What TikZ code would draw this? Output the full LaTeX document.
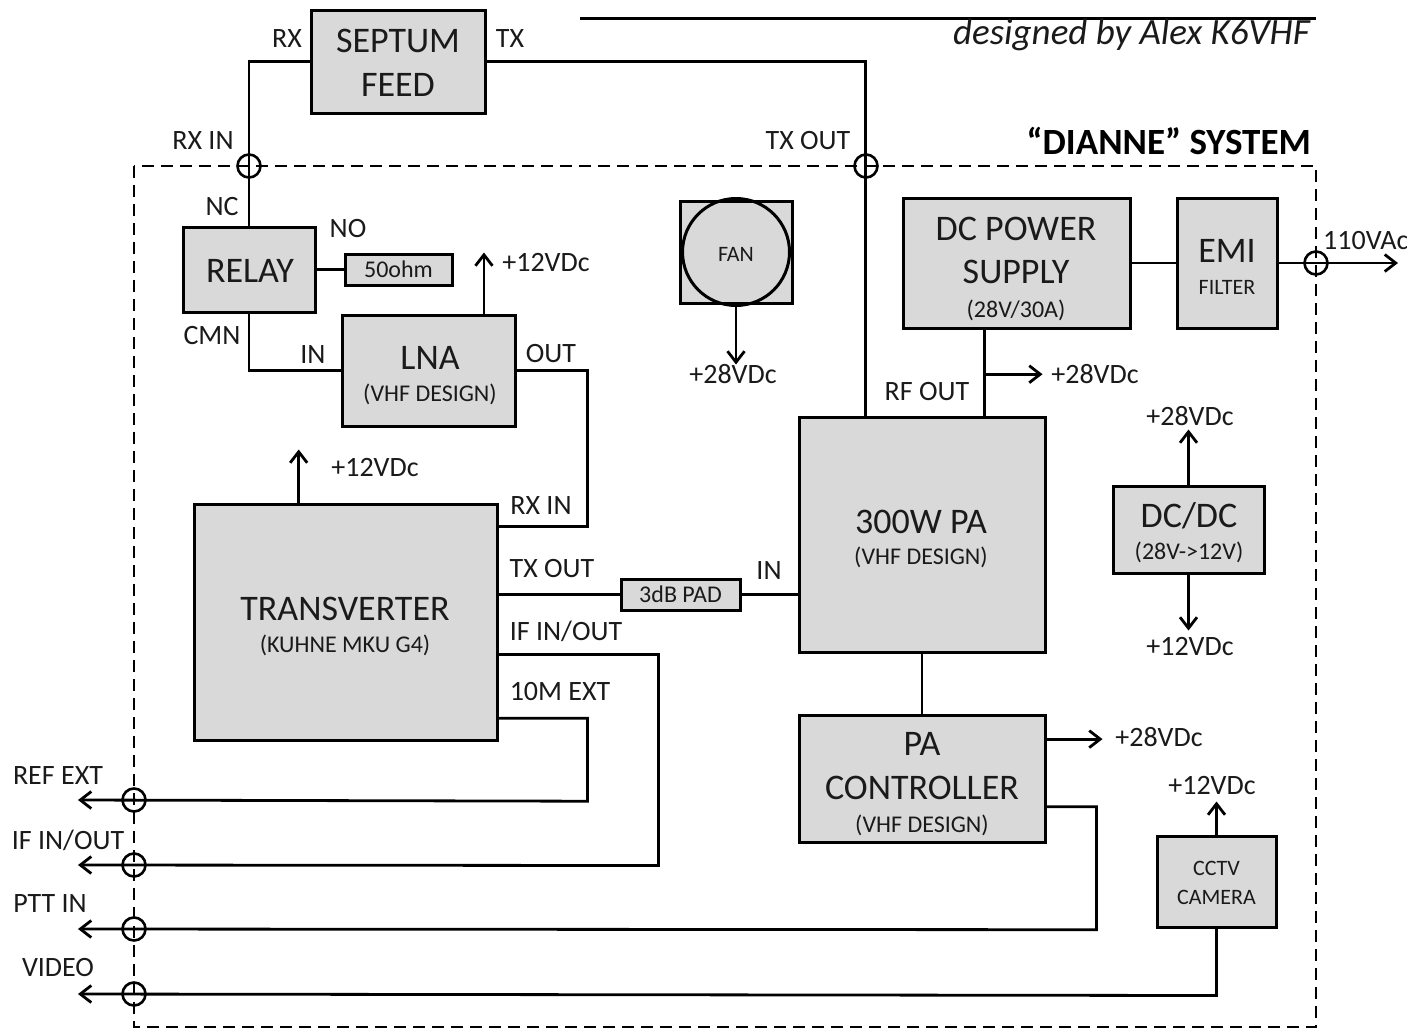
\documentclass[tikz,border=0pt]{standalone}
\usepackage{fontspec}
\setmainfont{Carlito}
\usetikzlibrary{arrows.meta,calc}
\definecolor{boxfill}{HTML}{D9D9D9}
\definecolor{ink}{HTML}{1A1A1A}
\begin{document}
\begin{tikzpicture}[x=1pt,y=-1pt,
  blk/.style={draw=black,fill=boxfill,line width=3pt,rectangle,inner sep=0pt},
  wire/.style={draw=black,line width=2.8pt},
  arr/.style={wire,-{Straight Barb[length=11pt,width=17pt,line width=2.8pt]}},
  port/.style={circle,draw=black,line width=2.6pt,minimum size=23pt,inner sep=0pt},
  lab/.style={text=ink,inner sep=0pt,anchor=base,yshift=-9pt,font=\fontsize{28}{32}\selectfont},
  bigt/.style={text=ink,inner sep=0pt,anchor=base,yshift=-11.6pt,font=\fontsize{36}{40}\selectfont},
  smt/.style={text=ink,inner sep=0pt,anchor=base,yshift=-7.7pt,font=\fontsize{24}{28}\selectfont},
  tnt/.style={text=ink,inner sep=0pt,anchor=base,yshift=-7.1pt,font=\fontsize{22}{26}\selectfont}]
\useasboundingbox (0,0) rectangle (1407,1031);
\fill[white] (0,0) rectangle (1407,1031);

% title rule and author
\draw[line width=3pt] (580,18) coordinate (tl) -- (1316,18) coordinate (tr);
\node[text=ink,inner sep=0pt,anchor=base east,yshift=-12pt,font=\fontsize{37}{40}\selectfont\itshape] (author) at (1310,32) {designed by Alex K6VHF};

% system boundary
\draw[line width=2.6pt,dash pattern=on 12pt off 7pt] (134,166) rectangle (1316,1027);
\node[text=black,inner sep=0pt,anchor=base east,yshift=-12pt,font=\fontsize{37}{40}\selectfont\bfseries] (systitle) at (1311,142) {“DIANNE” SYSTEM};

% blocks
\node[blk,minimum width=174pt,minimum height=103pt] (septum) at (398,61.5) {};
\node[blk,minimum width=132pt,minimum height=85pt] (relay) at (249,269.5) {};
\node[blk,minimum width=107pt,minimum height=31pt] (ohm) at (398.5,269.5) {};
\node[blk,minimum width=173pt,minimum height=111pt] (lna) at (428.5,370.5) {};
\node[blk,minimum width=112pt,minimum height=102pt] (fan) at (736,252) {};
\node[circle,draw=black,line width=3pt,minimum size=107pt,inner sep=0pt] (fanc) at (736,252) {};
\node[blk,minimum width=303pt,minimum height=236pt] (trans) at (345.5,622) {};
\node[blk,minimum width=119pt,minimum height=31pt] (pad) at (680.5,594.5) {};
\node[blk,minimum width=246pt,minimum height=235pt] (pa) at (922,534.5) {};
\node[blk,minimum width=227pt,minimum height=130pt] (psu) at (1016.5,263) {};
\node[blk,minimum width=100pt,minimum height=130pt] (emi) at (1227,263) {};
\node[blk,minimum width=151pt,minimum height=87pt] (dcdc) at (1188.5,529.5) {};
\node[blk,minimum width=246pt,minimum height=127pt] (ctrl) at (922,778.5) {};
\node[blk,minimum width=119pt,minimum height=91pt] (cctv) at (1216.5,881.5) {};

% block texts
\node[bigt] (septumA) at (398,41) {SEPTUM};
\node[bigt] (septumB) at (398,85) {FEED};
\node[bigt] (relayT) at (250,271) {RELAY};
\node[smt] (ohmT) at (398.5,270) {50ohm};
\node[bigt] (lnaA) at (430,358) {LNA};
\node[smt] (lnaB) at (430,394) {(VHF DESIGN)};
\node[tnt] (fanT) at (736,254) {FAN};
\node[bigt] (transA) at (345,609) {TRANSVERTER};
\node[smt] (transB) at (345,645) {(KUHNE MKU G4)};
\node[smt] (padT) at (680.5,595) {3dB PAD};
\node[bigt] (paA) at (921,522) {300W PA};
\node[smt] (paB) at (921,557) {(VHF DESIGN)};
\node[bigt] (psuA) at (1016,229) {DC POWER};
\node[bigt] (psuB) at (1016,272) {SUPPLY};
\node[smt] (psuC) at (1016,310) {(28V/30A)};
\node[bigt] (emiA) at (1227,251) {EMI};
\node[tnt] (emiB) at (1227,287) {FILTER};
\node[bigt] (dcdcA) at (1189,516) {DC/DC};
\node[smt] (dcdcB) at (1189,552) {(28V->12V)};
\node[bigt] (ctrlA) at (922,744) {PA};
\node[bigt] (ctrlB) at (922,788) {CONTROLLER};
\node[smt] (ctrlC) at (922,825) {(VHF DESIGN)};
\node[tnt] (cctvA) at (1216.5,868) {CCTV};
\node[tnt] (cctvB) at (1216.5,897) {CAMERA};

% boundary ports
\node[port] (prx) at (249,166) {};
\node[port] (ptx) at (866,166) {};
\node[port] (pac) at (1316,263) {};
\node[port] (pref) at (134,800) {};
\node[port] (pif) at (134,865) {};
\node[port] (pptt) at (134,929) {};
\node[port] (pvid) at (134,994) {};

% free ends
\coordinate (refend) at (78,800);
\coordinate (ifend) at (78,865);
\coordinate (pttend) at (78,929);
\coordinate (vidend) at (78,994);
\coordinate (acend) at (1398,263);

% connectors
\draw[wire] (septum.west) -| (relay.north);
\coordinate (patop) at ($(pa.north west)!0.272!(pa.north east)$);
\draw[wire] (septum.east) -| (patop);
\draw[wire] (relay.east) -- (ohm.west);
\draw[wire] (relay.south) |- (lna.west);
\coordinate (lnap) at ($(lna.north west)!0.815!(lna.north east)$);
\draw[arr] (lnap) -- ++(0,-61);
\coordinate (trxin) at ($(trans.north east)!0.102!(trans.south east)$);
\draw[wire] (lna.east) -- ++(71,0) |- (trxin);
\draw[arr] (fan.south) -- ++(0,60);
\coordinate (transp) at ($(trans.north west)!0.347!(trans.north east)$);
\draw[arr] (transp) -- ++(0,-53);
\draw[wire] (pad.west -| trans.east) -- (pad.west);
\draw[wire] (pad.east) -- (pad.east -| pa.west);
\coordinate (tif) at ($(trans.north east)!0.636!(trans.south east)$);
\draw[arr] (tif) -- ++(160,0) -- ++(0,211) -- (ifend);
\coordinate (t10m) at ($(trans.north east)!0.9025!(trans.south east)$);
\draw[arr] (t10m) -- ++(89,0) -- ++(0,83) -- (refend);
\coordinate (psub) at ($(psu.south west)!0.361!(psu.south east)$);
\draw[wire] (psub) -- (psub |- pa.north);
\draw[arr] ($(psub)!0.52!(psub |- pa.north)$) -- ++(58,0);
\draw[wire] (psu.east) -- (emi.west);
\draw[arr] (emi.east) -- (acend);
\draw[arr] (dcdc.north) -- ++(0,-55);
\draw[arr] (dcdc.south) -- ++(0,56);
\draw[wire] (pa.south) -- (ctrl.north);
\coordinate (c28) at ($(ctrl.north east)!0.197!(ctrl.south east)$);
\draw[arr] (c28) -- ++(56,0);
\coordinate (cptt) at ($(ctrl.north east)!0.717!(ctrl.south east)$);
\draw[arr] (cptt) -- ++(50,0) -- ++(0,123) -- (pttend);
\draw[arr] (cctv.north) -- ++(0,-33);
\draw[arr] (cctv.south) -- ++(0,67) -- (vidend);

% labels
\node[lab] (lrx) at (287,38) {RX};
\node[lab] (ltx) at (510,38) {TX};
\node[lab] (lrxin) at (203,140) {RX IN};
\node[lab] (ltxout) at (808,140) {TX OUT};
\node[lab] (lnc) at (222,206) {NC};
\node[lab] (lno) at (348,228) {NO};
\node[lab] (l12a) at (546,262) {+12VDc};
\node[lab] (lcmn) at (212,335) {CMN};
\node[lab] (lin) at (313,354) {IN};
\node[lab] (lout) at (551,353) {OUT};
\node[lab] (l28fan) at (733,374) {+28VDc};
\node[lab,anchor=base west] (l110) at (1323,240) {110VAc};
\node[lab] (l28psu) at (1095,374) {+28VDc};
\node[lab] (lrfout) at (927,391) {RF OUT};
\node[lab] (l28dc) at (1190,416) {+28VDc};
\node[lab] (l12tr) at (375,467) {+12VDc};
\node[lab] (lrxin2) at (541,505) {RX IN};
\node[lab] (ltxout2) at (552,568) {TX OUT};
\node[lab] (lpain) at (769,570) {IN};
\node[lab] (lifio) at (566,631) {IF IN/OUT};
\node[lab] (l12dc) at (1190,646) {+12VDc};
\node[lab] (l10m) at (560,691) {10M EXT};
\node[lab] (l28c) at (1159,737) {+28VDc};
\node[lab] (lrefext) at (58,775) {REF EXT};
\node[lab] (l12cam) at (1212,785) {+12VDc};
\node[lab] (lifio2) at (68,840) {IF IN/OUT};
\node[lab] (lptt) at (50,903) {PTT IN};
\node[lab] (lvideo) at (58,967) {VIDEO};
\end{tikzpicture}
\end{document}
